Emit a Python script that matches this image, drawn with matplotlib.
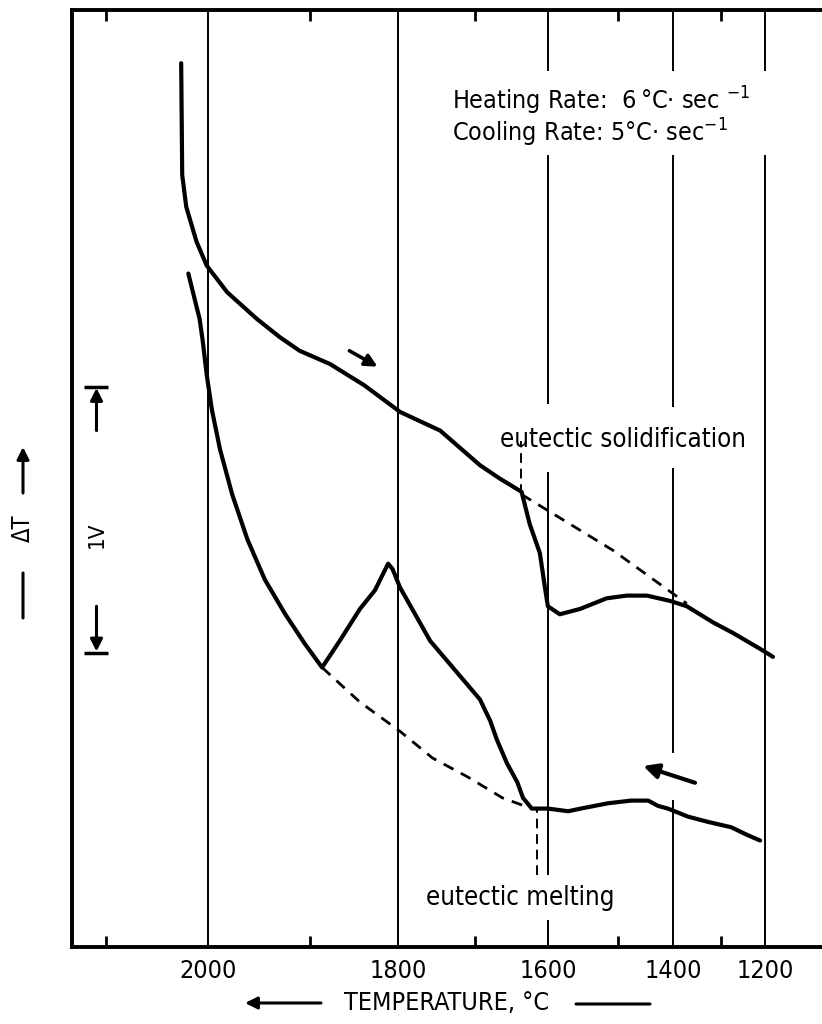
import numpy as np
import matplotlib
matplotlib.use("Agg")
import matplotlib.pyplot as plt
from matplotlib import font_manager

# cooling run (upper trace), temperature in C, signal in V
cool_temp = [2026, 2025, 2021, 2011, 2001, 1981, 1952, 1929, 1910, 1877, 1838, 1797,
             1745, 1693, 1666, 1636, 1625, 1611, 1604, 1600, 1583, 1554, 1516, 1484,
             1447, 1405, 1371, 1317, 1273, 1211, 1180]
cool_dt = [3.32, 2.90, 2.78, 2.65, 2.56, 2.46, 2.36, 2.29, 2.24, 2.19, 2.11, 2.01,
           1.94, 1.81, 1.76, 1.71, 1.59, 1.48, 1.35, 1.28, 1.25, 1.27, 1.31, 1.32,
           1.32, 1.30, 1.28, 1.22, 1.18, 1.12, 1.09]

# heating run (lower trace)
heat_temp = [2019, 2008, 2005, 2001, 1996, 1988, 1976, 1961, 1944, 1924, 1905, 1886,
             1866, 1843, 1826, 1814, 1811, 1806, 1797, 1758, 1693, 1679, 1670, 1656,
             1642, 1634, 1622, 1600, 1571, 1553, 1514, 1476, 1445, 1427, 1409, 1369,
             1327, 1277, 1239, 1211]
heat_dt = [2.53, 2.36, 2.28, 2.15, 2.02, 1.87, 1.70, 1.53, 1.38, 1.25, 1.14, 1.05,
           1.15, 1.27, 1.34, 1.42, 1.44, 1.42, 1.35, 1.15, 0.93, 0.85, 0.78, 0.69,
           0.62, 0.56, 0.52, 0.52, 0.51, 0.52, 0.54, 0.55, 0.55, 0.53, 0.52, 0.49,
           0.47, 0.45, 0.42, 0.40]

# extrapolated baselines
solid_base_temp = [1636, 1507, 1371]
solid_base_dt = [1.70, 1.49, 1.29]
melt_base_temp = [1886, 1843, 1797, 1755, 1710, 1662, 1622]
melt_base_dt = [1.05, 0.92, 0.81, 0.71, 0.64, 0.56, 0.52]

solid_onset = 1637
melt_onset = 1615

# temperature axis of the recorder is not linear
cal_temp = np.array([1000, 1100, 1200, 1300, 1400, 1500, 1600, 1700, 1800, 1900, 2000, 2100, 2200])
cal_pos = np.array([843, 805, 765, 721, 673, 618, 548, 475, 398, 310, 208, 106, 4])

major_temps = [2000, 1800, 1600, 1400, 1200]
minor_temps = [2100, 1900, 1700, 1500, 1300]

names = {f.name for f in font_manager.fontManager.ttflist}
narrow = "Liberation Sans Narrow" if "Liberation Sans Narrow" in names else "DejaVu Sans"
plt.rcParams["font.family"] = [narrow, "DejaVu Sans"]
plt.rcParams["font.stretch"] = "condensed"
plt.rcParams["mathtext.fontset"] = "dejavusans"


def fwd(t):
    return np.interp(t, cal_temp, -cal_pos)


def inv(u):
    return np.interp(u, -cal_pos, cal_temp)


fig = plt.figure(figsize=(8.22, 10.24), dpi=100)
ax = fig.add_axes([72 / 822, 1 - 947 / 1024, 771 / 822, 937 / 1024])
ax.set_xscale("function", functions=(fwd, inv))
ax.set_xlim(2133, 1000)
ax.set_ylim(0, 3.52)

# vertical grid lines, broken where the lettering sits
grid_gaps = {
    2000: [],
    1800: [],
    1600: [(2.977, 3.289), (1.786, 2.038), (0.102, 0.271)],
    1400: [(2.977, 3.289), (1.801, 2.030), (0.553, 0.729)],
    1200: [(2.977, 3.289)],
}
for t, gaps in grid_gaps.items():
    lo = 0
    for g0, g1 in sorted(gaps):
        ax.vlines(t, lo, g0, color="black", lw=1.4, zorder=1)
        lo = g1
    ax.vlines(t, lo, 3.52, color="black", lw=1.4, zorder=1)

ax.plot(cool_temp, cool_dt, color="black", lw=3, zorder=3, solid_capstyle="round", solid_joinstyle="round")
ax.plot(heat_temp, heat_dt, color="black", lw=3, zorder=3, solid_capstyle="round", solid_joinstyle="round")
ax.plot(solid_base_temp, solid_base_dt, color="black", lw=2, ls=(0, (4, 3)), zorder=3)
ax.plot(melt_base_temp, melt_base_dt, color="black", lw=2, ls=(0, (4, 3)), zorder=3)
ax.vlines(solid_onset, 1.70, 1.90, color="black", lw=1.4, linestyles=(0, (5, 3)), zorder=3)
ax.vlines(melt_onset, 0.27, 0.52, color="black", lw=1.4, linestyles=(0, (5, 3)), zorder=3)

arrow = dict(arrowstyle="-|>", lw=2.6, color="black", mutation_scale=18, shrinkA=0, shrinkB=0)
ax.annotate("", xy=(1823, 2.18), xytext=(1855, 2.24), arrowprops=arrow)
ax.annotate("", xy=(1454, 0.68), xytext=(1354, 0.617),
            arrowprops=dict(arrow, lw=3, mutation_scale=22))

# 1 V scale bar
bar = dict(arrowstyle="-|>", lw=2.2, color="black", mutation_scale=18, shrinkA=0, shrinkB=0)
ax.annotate("", xy=(2109, 2.10), xytext=(2109, 1.94), arrowprops=bar)
ax.annotate("", xy=(2109, 1.11), xytext=(2109, 1.28), arrowprops=bar)
ax.plot([2109, 2109], [2.105, 1.105], ls="none", marker="_", ms=17, mew=2.5, color="black")
ax.text(2109, 1.55, "1V", rotation=90, ha="center", va="center", fontsize=16)

ax.text(1730, 3.147, "Heating Rate:  6\u2009\u00b0C\u00b7 sec $^{-1}$", fontsize=18, va="baseline")
ax.text(1730, 3.026, "Cooling Rate: 5\u00b0C\u00b7 sec$^{-1}$", fontsize=18, va="baseline")
ax.text(1666, 1.88, "eutectic solidification", fontsize=18.5, va="baseline")
ax.text(1638, 0.185, "eutectic melting", fontsize=18.5, ha="center", va="center")

ax.set_xticks(major_temps)
ax.set_xticklabels([str(t) for t in major_temps])
ax.set_xticks(minor_temps, minor=True)
ax.tick_params(axis="x", which="major", length=0, pad=9, labelsize=18)
ax.tick_params(axis="x", which="minor", direction="in", length=8, width=2, top=True, bottom=True)
ax.set_yticks([])
for side in ["left", "top", "bottom", "right"]:
    ax.spines[side].set_linewidth(2.8)

# axis captions with their arrows
fig.text(447 / 822, 1 - 1003 / 1024, "TEMPERATURE, \u00b0C", fontsize=18, ha="center", va="center")
ax.annotate("", xy=(245, 1024 - 1003), xytext=(321, 1024 - 1003), xycoords="figure pixels",
            arrowprops=dict(arrowstyle="-|>", lw=2.2, color="black", mutation_scale=18, shrinkA=0, shrinkB=0))
ax.annotate("", xy=(576, 1024 - 1004), xytext=(650, 1024 - 1004), xycoords="figure pixels",
            arrowprops=dict(arrowstyle="-", lw=2.2, color="black", shrinkA=0, shrinkB=0))

fig.text(23 / 822, 1 - 528 / 1024, "\u0394T", fontsize=17, rotation=90, ha="center", va="center")
ax.annotate("", xy=(23, 1024 - 447), xytext=(23, 1024 - 493), xycoords="figure pixels",
            arrowprops=dict(arrowstyle="-|>", lw=2.2, color="black", mutation_scale=18, shrinkA=0, shrinkB=0))
ax.annotate("", xy=(23, 1024 - 573), xytext=(23, 1024 - 618), xycoords="figure pixels",
            arrowprops=dict(arrowstyle="-", lw=2.2, color="black", shrinkA=0, shrinkB=0))

plt.savefig("out.png", dpi=100)
